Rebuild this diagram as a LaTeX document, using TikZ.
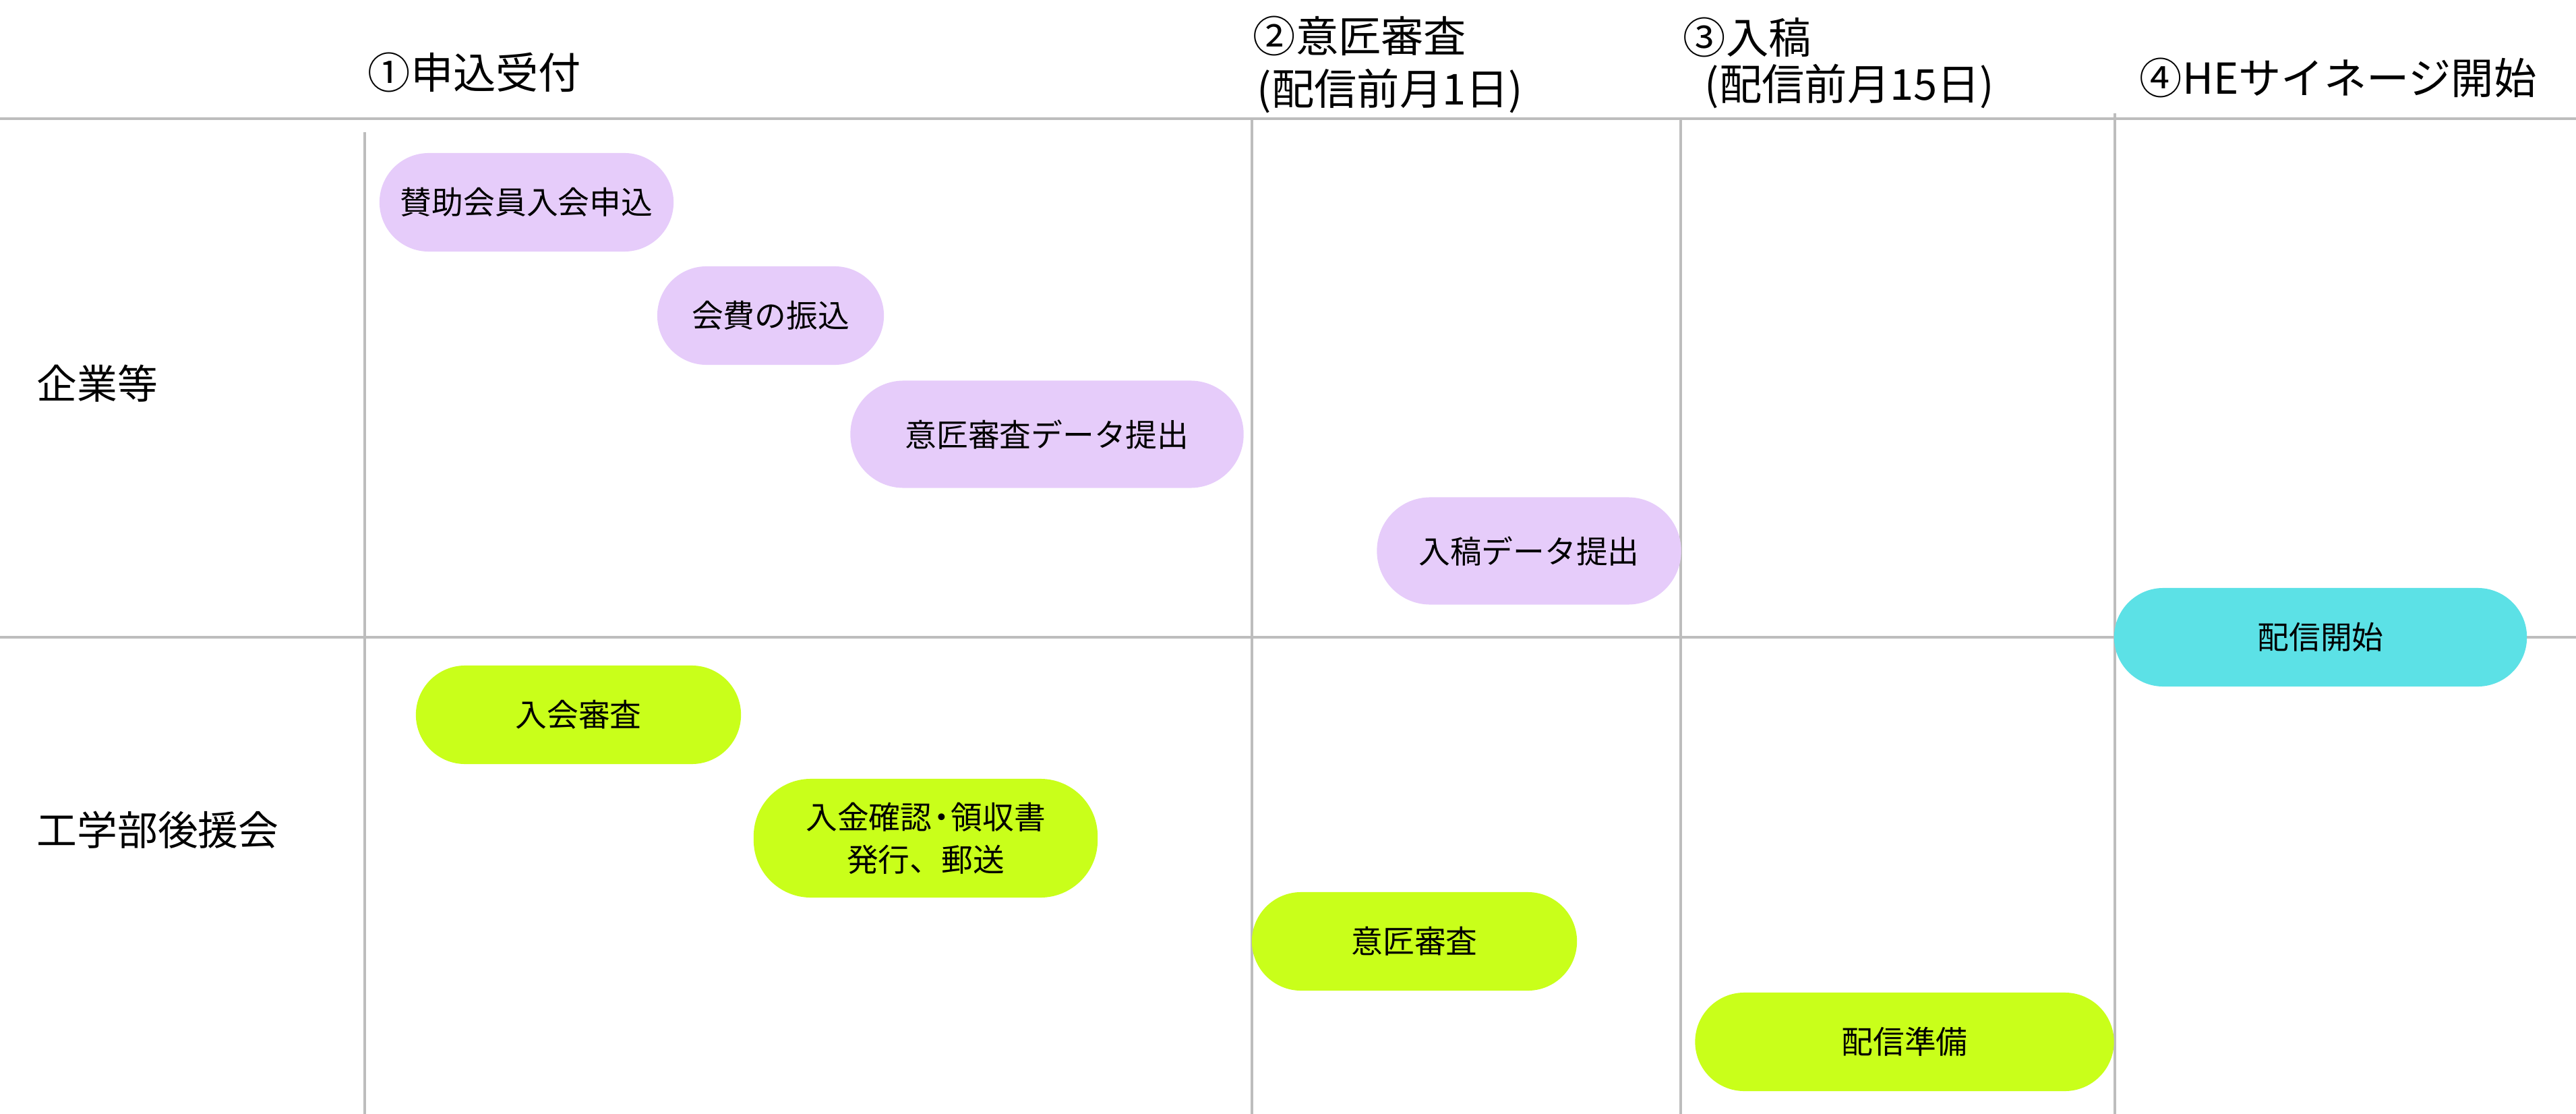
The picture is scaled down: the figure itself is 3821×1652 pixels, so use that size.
\documentclass[tikz,border=0pt]{standalone}
\usepackage{fontspec}
\setmainfont{Noto Sans CJK JP}
\usetikzlibrary{positioning}
\definecolor{rulegray}{HTML}{BDBDBD}
\definecolor{corpfill}{HTML}{E6CCFA}
\definecolor{clubfill}{HTML}{C9FF1A}
\definecolor{startfill}{HTML}{5CE1E6}
\begin{document}
\begin{tikzpicture}[x=0.01cm,y=-0.01cm,
		rule/.style={draw=rulegray,line width=1pt},
		task/.style={rounded corners=0.73cm,minimum height=1.46cm,inner sep=0pt,align=center,font=\fontsize{13.3}{18}\selectfont},
		corp/.style={task,fill=corpfill},
		club/.style={task,fill=clubfill},
		head/.style={anchor=west,inner sep=0pt,font=\fontsize{18}{22}\selectfont},
		lane/.style={anchor=west,inner sep=0pt,font=\fontsize{17}{20}\selectfont}]
	\useasboundingbox (0,0) rectangle (3821,1652);
	% lanes
	\draw[rule] (0,176) -- (3821,176);
	\draw[rule] (0,945) -- (3821,945);
	\draw[rule] (541,196) -- (541,1652);
	\foreach \x in {1857,2493}
	\draw[rule] (\x,176) -- (\x,1652);
	\draw[rule] (3137,168) -- (3137,1652);
	% steps
	\node[head] (h1) at (545,107) {①申込受付};
	\node[head] (h2) at (1858,53) {②意匠審査};
	\node[head] (h2d) at (1864,135) {(配信前月1日)};
	\node[head] (h3) at (2496,55) {③入稿};
	\node[head] (h3d) at (2528,128) {(配信前月15日)};
	\node[head] (h4) at (3173,115) {④HEサイネージ開始};
	\node[lane] (corp) at (54,569) {企業等};
	\node[lane] (club) at (54,1231) {工学部後援会};
	% tasks
	\node[corp,minimum width=4.36cm] (apply) at (781,300) {賛助会員入会申込};
	\node[corp,minimum width=3.36cm] (fee) at (1143,468) {会費の振込};
	\node[corp,minimum width=5.83cm,minimum height=1.59cm,rounded corners=0.79cm] (design) at (1553,644) {意匠審査データ提出};
	\node[corp,minimum width=4.51cm,minimum height=1.59cm,rounded corners=0.79cm] (submit) at (2268,817) {入稿データ提出};
	\node[task,fill=startfill,minimum width=6.12cm] (start) at (3442,945) {配信開始};
	\node[club,minimum width=4.82cm] (screen) at (858,1060) {入会審査};
	\node[club,minimum width=5.10cm,minimum height=1.76cm,rounded corners=0.85cm] (receipt) at (1373,1243) {入金確認\kern-0.2em・\kern-0.2em領収書\\発行、郵送};
	\node[club,minimum width=4.82cm] (review) at (2098,1396) {意匠審査};
	\node[club,minimum width=6.21cm] (prep) at (2825,1545) {配信準備};
\end{tikzpicture}
\end{document}
